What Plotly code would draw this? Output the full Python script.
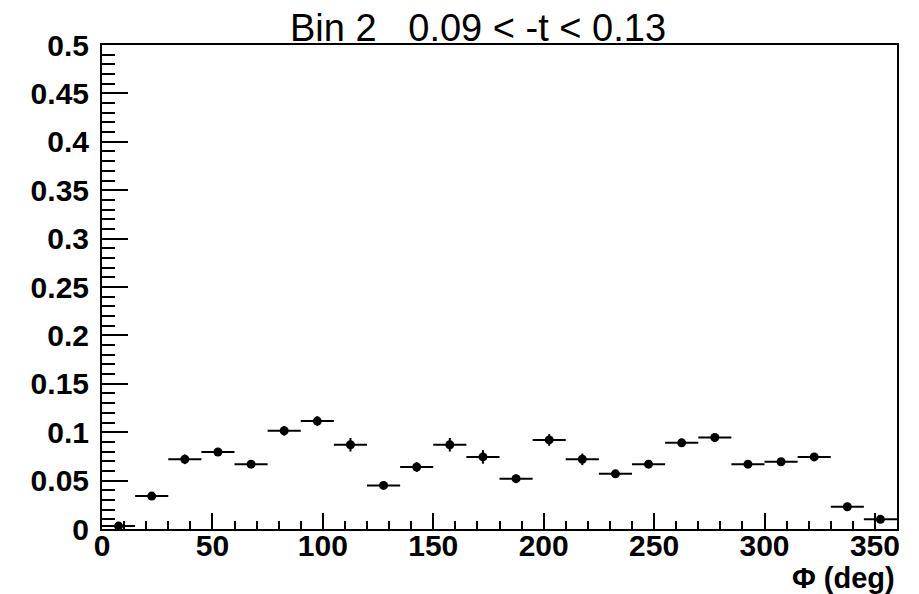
import plotly.graph_objects as go

# Bin edges (deg)
bin_lo = [0, 15, 30, 45, 60, 75, 90, 105, 120, 135, 150, 165,
          180, 195, 210, 225, 240, 255, 270, 285, 300, 315, 330, 345]
bin_hi = [15, 30, 45, 60, 75, 90, 105, 120, 135, 150, 165, 180,
          195, 210, 225, 240, 255, 270, 285, 300, 315, 330, 345, 360]

values = [0.003, 0.034, 0.072, 0.0795, 0.067, 0.1015, 0.1115, 0.087,
          0.045, 0.064, 0.087, 0.0745, 0.052, 0.092, 0.072, 0.057,
          0.067, 0.089, 0.0945, 0.067, 0.0695, 0.0745, 0.023, 0.010]
errors = [0.003, 0.004, 0.005, 0.004, 0.004, 0.005, 0.005, 0.007,
          0.003, 0.005, 0.007, 0.007, 0.004, 0.006, 0.006, 0.004,
          0.004, 0.004, 0.004, 0.004, 0.003, 0.004, 0.003, 0.003]

centers = [(a + b) / 2 for a, b in zip(bin_lo, bin_hi)]
half_w = [(b - a) / 2 for a, b in zip(bin_lo, bin_hi)]

fig = go.Figure()
fig.add_trace(go.Scatter(
    x=centers, y=values, mode="markers",
    marker=dict(color="black", size=9, symbol="circle"),
    error_x=dict(type="data", array=half_w, visible=True, width=0,
                 thickness=2, color="black"),
    error_y=dict(type="data", array=errors, visible=True, width=0,
                 thickness=2, color="black"),
    cliponaxis=False, showlegend=False,
))

tickfont = dict(family="Liberation Sans", size=30, color="black", weight="bold")

fig.update_layout(
    width=919, height=594,
    paper_bgcolor="white", plot_bgcolor="white",
    margin=dict(l=102, r=22, t=45, b=65),
    title=dict(text="Bin 2   0.09 < -t < 0.13", x=478/919, xanchor="center",
               y=1 - 28/594, yanchor="middle", xref="container", yref="container",
               font=dict(family="Liberation Sans", size=38, color="black")),
    xaxis=dict(range=[0, 360], showgrid=False, zeroline=False,
               showline=True, linecolor="black", linewidth=2, mirror=True,
               ticks="inside", ticklen=16, tickwidth=2, tickcolor="black",
               dtick=50, tick0=0, tickfont=tickfont, ticklabelstandoff=-11,
               minor=dict(ticks="inside", ticklen=8, tickwidth=2,
                          tickcolor="black", dtick=10, showgrid=False)),
    yaxis=dict(range=[0, 0.5], showgrid=False, zeroline=False,
               showline=True, linecolor="black", linewidth=2, mirror=True,
               ticks="inside", ticklen=26, tickwidth=2, tickcolor="black",
               dtick=0.05, tick0=0, tickfont=tickfont, ticklabelstandoff=5,
               minor=dict(ticks="inside", ticklen=13, tickwidth=2,
                          tickcolor="black", dtick=0.01, showgrid=False)),
    annotations=[dict(text="Φ (deg)", xref="paper", yref="paper",
                      x=1, y=0, xanchor="right", yanchor="top",
                      yshift=-31, showarrow=False,
                      font=dict(family="Liberation Sans", size=29,
                                color="black", weight="bold"))],
)

fig.write_html("out.html")
